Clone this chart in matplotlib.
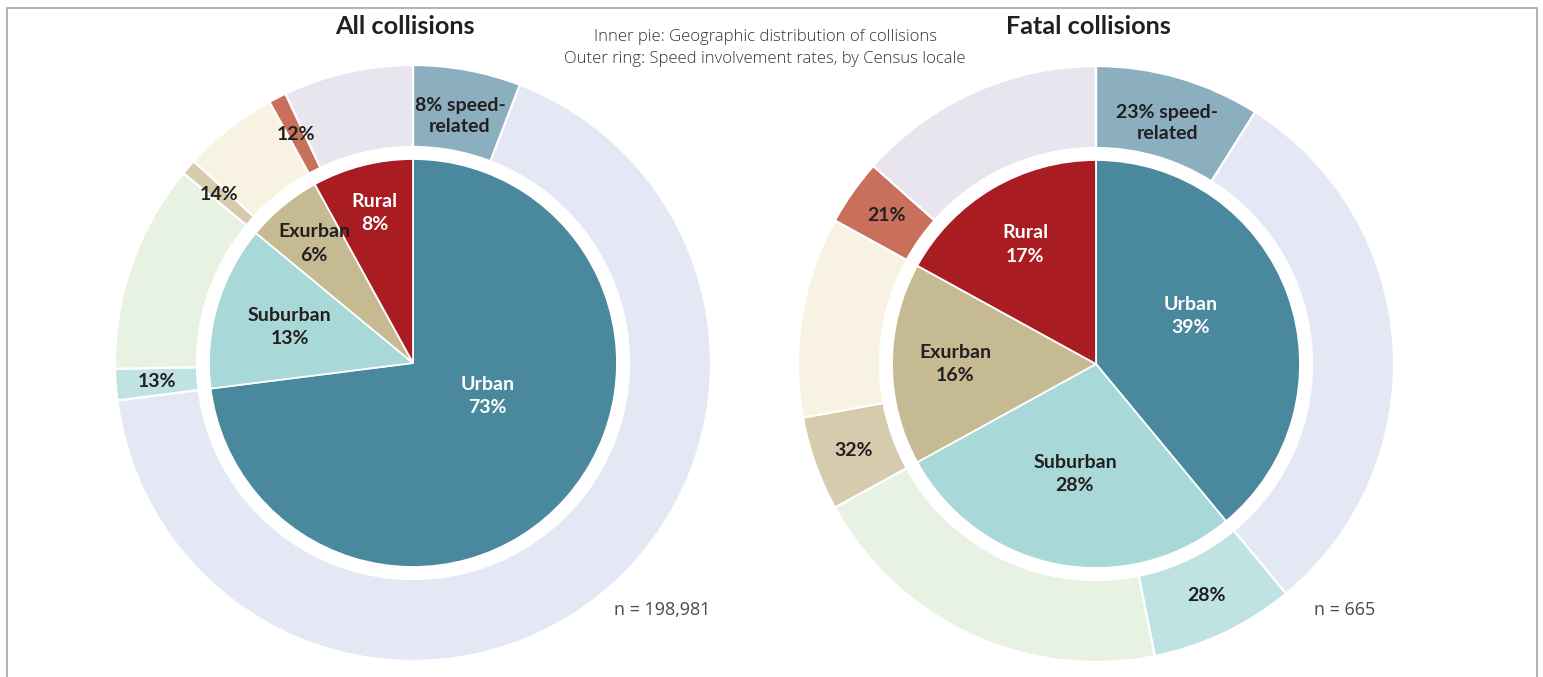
import numpy as np
import matplotlib.pyplot as plt
from matplotlib.lines import Line2D

# locale shares of collisions (inner pie) and speed involvement per locale (outer ring)
locales = ["Urban", "Suburban", "Exurban", "Rural"]
all_share = [73, 13, 6, 8]
all_speed = [8, 13, 14, 12]
fatal_share = [39, 28, 16, 17]
fatal_speed = [23, 28, 32, 21]

inner_colors = ["#4a899d", "#a8d8d8", "#c5ba92", "#a81c22"]
speed_colors = ["#8cafc0", "#bfe3e3", "#d6cbad", "#c8705c"]
rest_colors = ["#e4e8f4", "#e8f2e3", "#f8f2e2", "#e8e5ef"]
inner_text = ["white", "#231f20", "#231f20", "white"]

W, H = 1543, 677
R_IN = 204
R_OUT = 298
RING_W = 82

BOLD = "Lato"
LABEL_SIZE = 14


def polar(cx, cy, r, deg):
    t = np.deg2rad(deg)
    return cx + r * np.cos(t), cy + r * np.sin(t)


def nested_pie(ax, cx, cy, share, speed, title, n_text, rfrac, urban_label):
    # outer ring: speed-related part first (clockwise), then the rest
    ring_vals, ring_cols = [], []
    for s, p, c1, c2 in zip(share, speed, speed_colors, rest_colors):
        ring_vals += [s * p / 100, s * (100 - p) / 100]
        ring_cols += [c1, c2]
    ring, _ = ax.pie(ring_vals, colors=ring_cols, radius=R_OUT, center=(cx, cy),
                     startangle=90, counterclock=False,
                     wedgeprops=dict(width=RING_W, edgecolor="white", linewidth=1.6))
    inner, _ = ax.pie(share, colors=inner_colors, radius=R_IN, center=(cx, cy),
                      startangle=90, counterclock=False,
                      wedgeprops=dict(edgecolor="white", linewidth=1.3))

    # inner labels; the urban one sits off its mid angle
    for i, (w, name, s) in enumerate(zip(inner, locales, share)):
        mid = (w.theta1 + w.theta2) / 2
        rf = rfrac[i]
        if i == 0:
            mid, rf = urban_label
        x, y = polar(cx, cy, R_IN * rf, mid)
        ax.text(x, y, f"{name}\n{s}%", ha="center", va="center", fontsize=LABEL_SIZE,
                fontweight="bold", family=BOLD, color=inner_text[i], linespacing=1.45)

    # speed labels on the ring
    r_mid = R_OUT - RING_W / 2
    for i, p in enumerate(speed):
        w = ring[2 * i]
        mid = (w.theta1 + w.theta2) / 2
        x, y = polar(cx, cy, r_mid, mid)
        txt = f"{p}% speed-\nrelated" if i == 0 else f"{p}%"
        ax.text(x, y - (6 if i == 0 else 0), txt, ha="center", va="center",
                fontsize=LABEL_SIZE, fontweight="bold", family=BOLD, color="#231f20",
                linespacing=1.3)

    ax.text(cx - 8, H - 27, title, ha="center", va="center", fontsize=18.2,
            fontweight="bold", family=BOLD, color="#231f20")
    ax.text(cx + 249, H - 610, n_text, ha="center", va="center", fontsize=13,
            family="Open Sans", color="#4a4a4a")


fig = plt.figure(figsize=(W / 100, H / 100), dpi=100)
ax = fig.add_axes([0, 0, 1, 1])

nested_pie(ax, 413, H - 363, all_share, all_speed, "All collisions", "n = 198,981",
           rfrac=[0.4, 0.63, 0.76, 0.76], urban_label=(-23.7, 0.4))
nested_pie(ax, 1096, H - 364, fatal_share, fatal_speed, "Fatal collisions", "n = 665",
           rfrac=[0.52, 0.55, 0.69, 0.68], urban_label=(27, 0.52))

# pie() resets the limits, so fix the pixel frame afterwards
ax.set_xlim(0, W)
ax.set_ylim(0, H)
ax.set_aspect("equal")
ax.axis("off")

ax.text(765, H - 48, "Inner pie: Geographic distribution of collisions\n"
        "Outer ring: Speed involvement rates, by Census locale",
        ha="center", va="center", fontsize=12, family="Open Sans",
        fontweight="light", color="#333333", linespacing=1.45)

# thin grey frame, open at the bottom
frame = dict(color="#b4b4b4", linewidth=1.5, solid_capstyle="butt")
ax.add_line(Line2D([7, 7, 1537, 1537], [0, H - 8, H - 8, 0], **frame))

fig.savefig("out.png", dpi=100)
